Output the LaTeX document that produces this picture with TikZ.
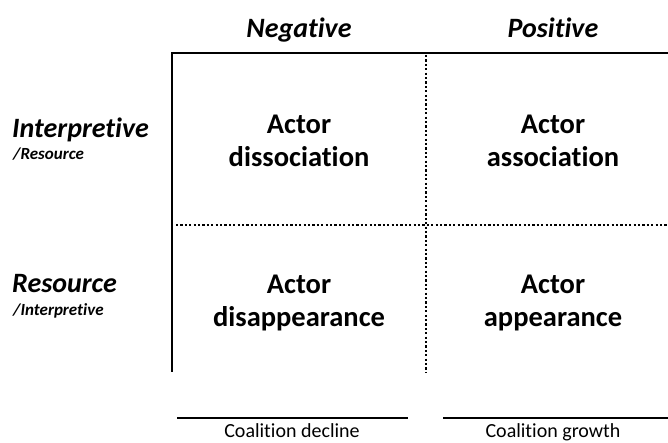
\documentclass[tikz,border=0pt]{standalone}
\usepackage{fontspec}
\setmainfont{Carlito}[Ligatures=CommonOff]
\begin{document}
\begin{tikzpicture}[x=1pt,y=-1pt,
  axis/.style={line width=2.6pt},
  grid/.style={line width=2.4pt,dash pattern=on 2.2pt off 2.2pt},
  txt/.style={inner sep=0pt,anchor=base},
  head/.style={txt,font=\fontsize{28}{32}\selectfont\bfseries\itshape},
  sub/.style={txt,anchor=base west,font=\fontsize{17}{20}\selectfont\bfseries\itshape},
  cell/.style={txt,font=\fontsize{28.5}{33}\selectfont\bfseries},
  foot/.style={txt,font=\fontsize{20}{24}\selectfont}]
\useasboundingbox (0,0) rectangle (668,443);
% frame and quadrant dividers
\coordinate (tl) at (172,53);
\coordinate (tr) at (668,53);
\coordinate (bl) at (172,372);
\coordinate (vt) at (426,55);
\coordinate (vb) at (426,372);
\coordinate (hl) at (176,225);
\coordinate (hr) at (668,225);
\draw[grid] (vt) -- (vb);
\draw[grid] (hl) -- (hr);
\draw[axis] (tr) -- (tl) -- (bl);
% column headings
\node[head] (neg) at (299,38) {Negative};
\node[head] (pos) at (553,38) {Positive};
% row headings
\node[head,anchor=base west] (int) at (12,138) {Interpretive};
\node[sub] (intr) at (13,160) {/Resource};
\node[head,anchor=base west] (res) at (12,292) {Resource};
\node[sub] (resi) at (13,315) {/Interpretive};
% quadrant labels
\node[cell] (q1a) at (299,134) {Actor};
\node[cell] (q1b) at (299,167) {dissociation};
\node[cell] (q2a) at (553,134) {Actor};
\node[cell] (q2b) at (553,167) {association};
\node[cell] (q3a) at (299,293) {Actor};
\node[cell] (q3b) at (299,326) {disappearance};
\node[cell] (q4a) at (553,293) {Actor};
\node[cell] (q4b) at (553,326) {appearance};
% outcome labels
\coordinate (d1) at (177,418);
\coordinate (d2) at (408,418);
\coordinate (g1) at (443,418);
\coordinate (g2) at (668,418);
\draw[line width=2pt] (d1) -- (d2);
\draw[line width=2pt] (g1) -- (g2);
\node[foot] (dec) at (292,437.5) {Coalition decline};
\node[foot] (gro) at (553,437.5) {Coalition growth};
\end{tikzpicture}
\end{document}
